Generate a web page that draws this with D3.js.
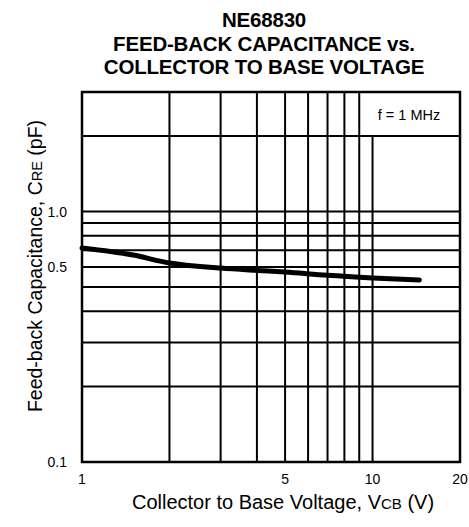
<!DOCTYPE html>
<html><head><meta charset="utf-8">
<script src="https://cdn.jsdelivr.net/npm/d3@7"></script>
<style>body{margin:0;background:#fff}svg{display:block}text{font-family:"Liberation Sans",Arial,sans-serif;fill:#000}</style>
</head><body><svg id="c" width="469" height="527"></svg>
<script>
// Data
const titleLines = ["NE68830", "FEED-BACK CAPACITANCE vs.", "COLLECTOR TO BASE VOLTAGE"];
const vcb = [1, 1.5, 2, 3, 4, 5, 7, 10, 14.5];
const cre = [0.715, 0.67, 0.623, 0.595, 0.582, 0.573, 0.556, 0.543, 0.533];
const xGrid = [2, 3, 4, 5, 6, 7, 8, 9, 10];
const yGrid = [0.2, 0.3, 0.4, 0.5, 0.6, 0.7, 0.8, 0.9, 1.0, 2.0];
const xTickValues = [1, 5, 10, 20];
const xTickLabels = ["1", "5", "10", "20"];
const yTickValues = [0.1, 0.6, 1.0];   // label positions as printed on the original
const yTickLabels = ["0.1", "0.5", "1.0"];
const noteText = "f = 1 MHz";

const svg = d3.select("#c");
const L = 82, R = 460, T = 92, B = 462;
const x = d3.scaleLog().domain([1, 20]).range([L, R]);
const y = d3.scaleLog().domain([0.1, 3]).range([B, T]);

// Title
svg.append("g").selectAll("text").data(titleLines).join("text")
  .attr("x", 264).attr("y", (d, i) => 27 + i * 23.5)
  .attr("text-anchor", "middle").attr("font-weight", "bold")
  .attr("font-size", 20.5).attr("letter-spacing", "-0.2").text(d => d);

// Grid
const g = svg.append("g").attr("stroke", "#000").attr("stroke-width", 2);
g.selectAll("line.h").data(yGrid).join("line").attr("class", "h")
  .attr("x1", L).attr("x2", R).attr("y1", d => y(d)).attr("y2", d => y(d));
g.selectAll("line.v").data(xGrid).join("line").attr("class", "v")
  .attr("x1", d => x(d)).attr("x2", d => x(d))
  .attr("y1", d => d === 10 ? y(2) : T).attr("y2", B);
svg.append("rect").attr("x", L).attr("y", T).attr("width", R - L).attr("height", B - T)
  .attr("fill", "none").attr("stroke", "#000").attr("stroke-width", 2.5);

// Note
svg.append("text").attr("x", 409).attr("y", 120).attr("text-anchor", "middle")
  .attr("font-size", 14.5).text(noteText);

// Curve
const pts = vcb.map((v, i) => [v, cre[i]]);
svg.append("path").datum(pts)
  .attr("fill", "none").attr("stroke", "#000").attr("stroke-width", 5)
  .attr("stroke-linecap", "round")
  .attr("d", d3.line().x(d => x(d[0])).y(d => y(d[1])).curve(d3.curveMonotoneX));

// Axes labels (ticks)
svg.append("g").selectAll("text").data(xTickValues).join("text")
  .attr("x", d => x(d)).attr("y", 484).attr("text-anchor", "middle")
  .attr("font-size", 14).text((d, i) => xTickLabels[i]);
svg.append("g").selectAll("text").data(yTickValues).join("text")
  .attr("x", 67).attr("y", d => y(d) + 5).attr("text-anchor", "end")
  .attr("font-size", 14).text((d, i) => yTickLabels[i]);

// Axis titles
const xt = svg.append("text").attr("x", 283).attr("y", 509).attr("text-anchor", "middle").attr("font-size", 20);
xt.append("tspan").text("Collector to Base Voltage, V");
xt.append("tspan").attr("font-size", 15).text("CB");
xt.append("tspan").text(" (V)");

const yt = svg.append("text").attr("transform", "translate(42,266) rotate(-90)")
  .attr("text-anchor", "middle").attr("font-size", 19.5);
yt.append("tspan").text("Feed-back Capacitance, C");
yt.append("tspan").attr("font-size", 14.5).text("RE");
yt.append("tspan").text(" (pF)");
</script></body></html>
